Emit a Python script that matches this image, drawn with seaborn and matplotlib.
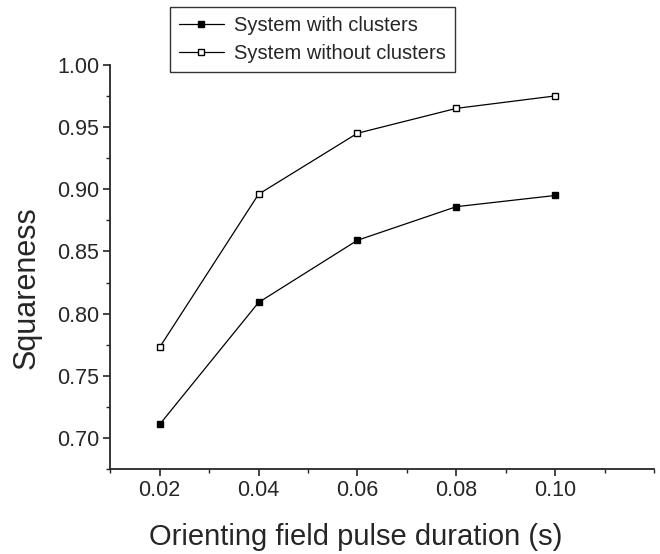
import seaborn as sns
import matplotlib.pyplot as plt
import pandas as pd
from matplotlib.ticker import MultipleLocator

# data
duration = [0.02, 0.04, 0.06, 0.08, 0.10]
with_clusters = [0.711, 0.809, 0.859, 0.886, 0.895]
without_clusters = [0.773, 0.896, 0.945, 0.965, 0.975]
labels = ["System with clusters", "System without clusters"]

df = pd.DataFrame({
    "Duration": duration * 2,
    "Squareness": with_clusters + without_clusters,
    "System": [labels[0]] * 5 + [labels[1]] * 5,
})

sns.set_style("ticks")
plt.rcParams["font.family"] = ["Liberation Sans", "DejaVu Sans"]

fig = plt.figure(figsize=(6.6, 5.54), dpi=100)
ax = fig.add_axes([0.167, 0.153, 0.824, 0.730])

face = {labels[0]: "black", labels[1]: "white"}
for lab in labels:
    sub = df[df["System"] == lab]
    sns.lineplot(data=sub, x="Duration", y="Squareness", ax=ax, color="black",
                 lw=0.9, marker="s", markersize=5, markerfacecolor=face[lab],
                 markeredgecolor="black", markeredgewidth=1, label=lab)

ax.set_xlim(0.01, 0.12)
ax.set_ylim(0.675, 1.0)
ax.set_xticks(duration)
ax.set_xticklabels(["0.02", "0.04", "0.06", "0.08", "0.10"])
ax.xaxis.set_minor_locator(MultipleLocator(0.01))
ax.yaxis.set_major_locator(MultipleLocator(0.05))
ax.yaxis.set_minor_locator(MultipleLocator(0.025))
ax.tick_params(which="major", direction="out", length=5, width=1.2, labelsize=15.5, pad=3)
ax.tick_params(which="minor", direction="out", length=3, width=1)
for s in ["top", "right"]:
    ax.spines[s].set_visible(False)
for s in ["left", "bottom"]:
    ax.spines[s].set_linewidth(1.3)

ax.set_xlabel("Orienting field pulse duration (s)", fontsize=21, va="center")
ax.set_ylabel("Squareness", fontsize=22, va="center")
ax.xaxis.set_label_coords(0.452, -0.168)
ax.yaxis.set_label_coords(-0.153, 0.448)

leg = ax.legend(loc="upper left", bbox_to_anchor=(0.258, 0.987),
                bbox_transform=fig.transFigure, fontsize=14.5, frameon=True,
                fancybox=False, edgecolor="black", borderpad=0.45, labelspacing=0.45,
                handlelength=2.2, handletextpad=0.5, borderaxespad=0)
leg.get_frame().set_linewidth(1)

plt.savefig("out.png", dpi=100)
